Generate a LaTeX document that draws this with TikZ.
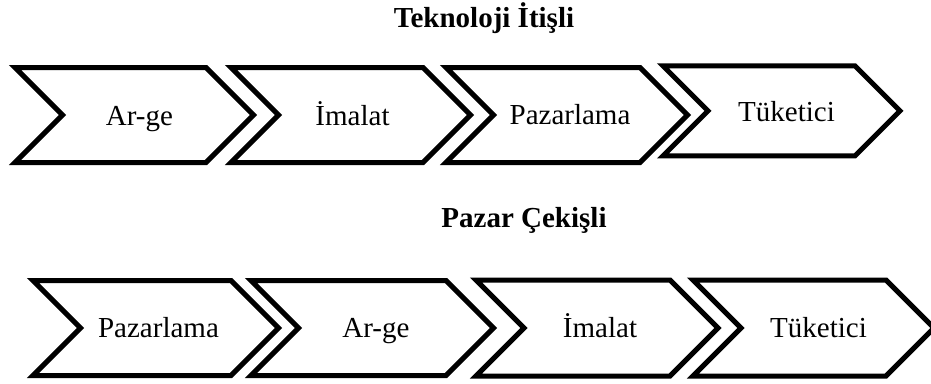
\documentclass[tikz,border=0pt]{standalone}
\usepackage{fontspec}
\setmainfont{Liberation Serif}
\begin{document}
\begin{tikzpicture}[x=1pt,y=-1pt,
  chevline/.style={draw=black,line width=5pt,line join=miter,fill=white},
  label/.style={anchor=base,inner sep=0pt,font=\fontsize{29}{34}\selectfont},
  heading/.style={anchor=base,inner sep=0pt,font=\fontsize{29}{34}\selectfont\bfseries}]
% chevron: left edge, flat right end, top, bottom
\newcommand\chevshape[4]{%
  \pgfmathsetmacro\cvmid{(#3+#4)/2}%
  \pgfmathsetmacro\cvhalf{(#4-#3)/2}%
  \draw[chevline] (#1,#3) -- (#2,#3) -- (#2+\cvhalf,\cvmid) -- (#2,#4)
    -- (#1,#4) -- (#1+\cvhalf,\cvmid) -- cycle;}
\clip (0,0) rectangle (931,383);

% technology push
\node[heading] (t1) at (484,27) {Teknoloji İtişli};
\chevshape{15}{206}{67.5}{162.5}
\chevshape{231}{423}{67.5}{162.5}
\chevshape{446}{640}{67.5}{162.5}
\chevshape{663}{855}{65.8}{155.8}
\node[label] (a1) at (139.5,125) {Ar-ge};
\node[label] (a2) at (352.5,125) {İmalat};
\node[label] (a3) at (570,124) {Pazarlama};
\node[label] (a4) at (786.5,121.5) {Tüketici};

% market pull
\node[heading] (t2) at (524,227) {Pazar Çekişli};
\chevshape{33}{231}{280.5}{375.5}
\chevshape{251}{446}{280.5}{375.5}
\chevshape{476}{670}{280}{376}
\chevshape{693}{886}{280}{376}
\node[label] (b1) at (158.5,337) {Pazarlama};
\node[label] (b2) at (376,337) {Ar-ge};
\node[label] (b3) at (600,337) {İmalat};
\node[label] (b4) at (818.5,337) {Tüketici};
\end{tikzpicture}
\end{document}
